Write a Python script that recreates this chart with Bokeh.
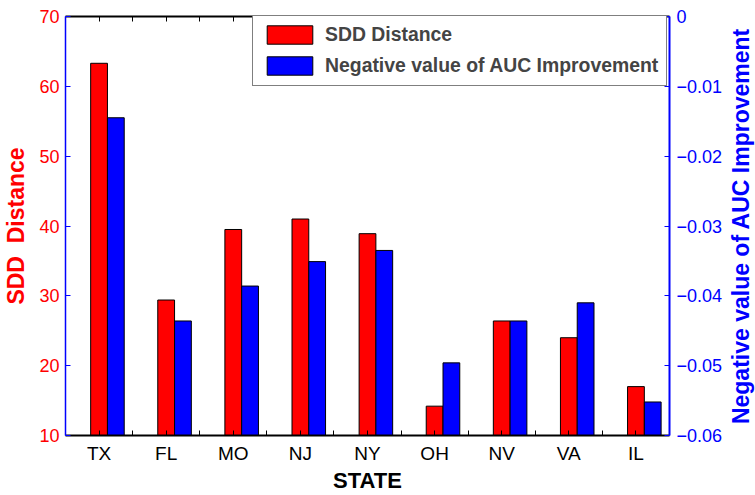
import math
from bokeh.plotting import figure
from bokeh.layouts import row
from bokeh.models import (Range1d, LinearAxis, FixedTicker, Legend, LegendItem,
                          Label, ColumnDataSource)
from bokeh.transform import dodge
from bokeh.embed import file_html
from bokeh.resources import INLINE

# ---- data ----
states = ["TX", "FL", "MO", "NJ", "NY", "OH", "NV", "VA", "IL"]
sdd_distance = [63.3, 29.4, 39.5, 41.0, 38.9, 14.2, 26.4, 24.0, 17.0]
neg_auc_improvement = [-0.0145, -0.0436, -0.0386, -0.0351, -0.0335, -0.0496, -0.0436, -0.0410, -0.0552]
sdd_ticks = [10, 20, 30, 40, 50, 60, 70]
auc_ticks = [-0.06, -0.05, -0.04, -0.03, -0.02, -0.01, 0.0]
auc_tick_labels = ["\u22120.06", "\u22120.05", "\u22120.04", "\u22120.03", "\u22120.02", "\u22120.01", "0"]

FONT = "Liberation Sans"
RED = "#ff0000"
BLUE = "#0000ff"

xpos = [i + 1 for i in range(len(states))]
source = ColumnDataSource(data=dict(x=xpos, sdd=sdd_distance, auc=neg_auc_improvement))

p = figure(width=725, height=495, x_range=Range1d(0.5, len(states) + 0.5),
           y_range=Range1d(10, 70), output_backend="svg", toolbar_location=None,
           min_border_left=65, min_border_right=55, min_border_top=16, min_border_bottom=59)
p.extra_y_ranges = {"auc": Range1d(-0.06, 0)}
p.grid.visible = False
p.outline_line_color = None
p.background_fill_color = "white"
p.border_fill_color = "white"

r_red = p.vbar(x="x", width=0.25, bottom=10, top="sdd", source=source,
               fill_color=RED, line_color="black", line_width=1)
r_blue = p.vbar(x=dodge("x", 0.25, range=p.x_range), width=0.25, bottom=-0.06, top="auc",
                source=source, y_range_name="auc",
                fill_color=BLUE, line_color="black", line_width=1)

# bottom axis
minor = [x + 0.5 for x in xpos[:-1]]
xa = p.xaxis[0]
xa.ticker = FixedTicker(ticks=xpos, minor_ticks=minor)
xa.major_label_overrides = {x: s for x, s in zip(xpos, states)}
xa.major_label_text_font = FONT
xa.major_label_text_font_size = "19px"
xa.major_label_text_color = "black"
xa.major_label_standoff = 7
xa.major_tick_in = 5
xa.major_tick_out = 0
xa.minor_tick_in = 5
xa.minor_tick_out = 0
xa.major_tick_line_color = "black"
xa.minor_tick_line_color = "black"
xa.axis_line_color = "black"
xa.axis_line_width = 2
xa.axis_label = "STATE"
xa.axis_label_text_font = FONT
xa.axis_label_text_font_size = "22px"
xa.axis_label_text_font_style = "bold"
xa.axis_label_text_color = "black"
xa.axis_label_standoff = 1

# top axis (frame border with ticks only, no labels)
ta = LinearAxis(ticker=FixedTicker(ticks=[], minor_ticks=sorted(xpos + minor)),
                major_label_standoff=0,
                major_tick_in=0, major_tick_out=0, minor_tick_in=5, minor_tick_out=0,
                axis_line_color="black", axis_line_width=2,
                major_tick_line_color=None, minor_tick_line_color="black")
p.add_layout(ta, "above")

# left axis
ya = p.yaxis[0]
ya.ticker = FixedTicker(ticks=sdd_ticks)
ya.major_label_text_font = FONT
ya.major_label_text_font_size = "18px"
ya.major_label_text_color = RED
ya.major_label_standoff = 6
ya.major_tick_in = 5
ya.major_tick_out = 0
ya.minor_tick_line_color = None
ya.major_tick_line_color = BLUE
ya.axis_line_color = BLUE
ya.axis_line_width = 1.5
ya.axis_label = "SDD\u00a0 Distance"
ya.axis_label_text_font = FONT
ya.axis_label_text_font_size = "23px"
ya.axis_label_text_font_style = "bold"
ya.axis_label_text_color = RED
ya.axis_label_standoff = 7

# right axis
ra = LinearAxis(y_range_name="auc", ticker=FixedTicker(ticks=auc_ticks),
                major_label_overrides={t: s for t, s in zip(auc_ticks, auc_tick_labels)},
                major_label_text_font=FONT, major_label_text_font_size="18px",
                major_label_text_color=BLUE, major_label_standoff=7,
                major_tick_in=5, major_tick_out=0, minor_tick_line_color=None,
                major_tick_line_color=BLUE, axis_line_color=BLUE, axis_line_width=2)
p.add_layout(ra, "right")

legend = Legend(items=[LegendItem(label="SDD Distance", renderers=[r_red]),
                       LegendItem(label="Negative value of AUC Improvement", renderers=[r_blue])],
                location=(187, 349), glyph_width=57, glyph_height=23, label_standoff=7,
                padding=8, spacing=8, margin=0,
                label_text_font=FONT, label_text_font_size="19.4px", label_text_font_style="bold",
                border_line_color="black", border_line_width=1.5,
                background_fill_color="white", background_fill_alpha=1.0)
p.add_layout(legend)

# narrow strip on the right holding the right-axis title (reads bottom to top)
p2 = figure(width=30, height=495, x_range=Range1d(0, 30), y_range=Range1d(-0.06, 0),
            output_backend="svg", toolbar_location=None,
            x_axis_location=None, y_axis_location=None,
            min_border_left=0, min_border_right=0, min_border_top=16, min_border_bottom=59)
p2.grid.visible = False
p2.outline_line_color = None
p2.add_layout(Label(x=15, y=-0.03, text="Negative value of AUC Improvement",
                    angle=math.pi / 2, text_align="center", text_baseline="middle",
                    text_font=FONT, text_font_size="23px", text_font_style="bold",
                    text_color=BLUE))

layout = row(p, p2, spacing=0)
open("out.html", "w").write(file_html(layout, INLINE))
